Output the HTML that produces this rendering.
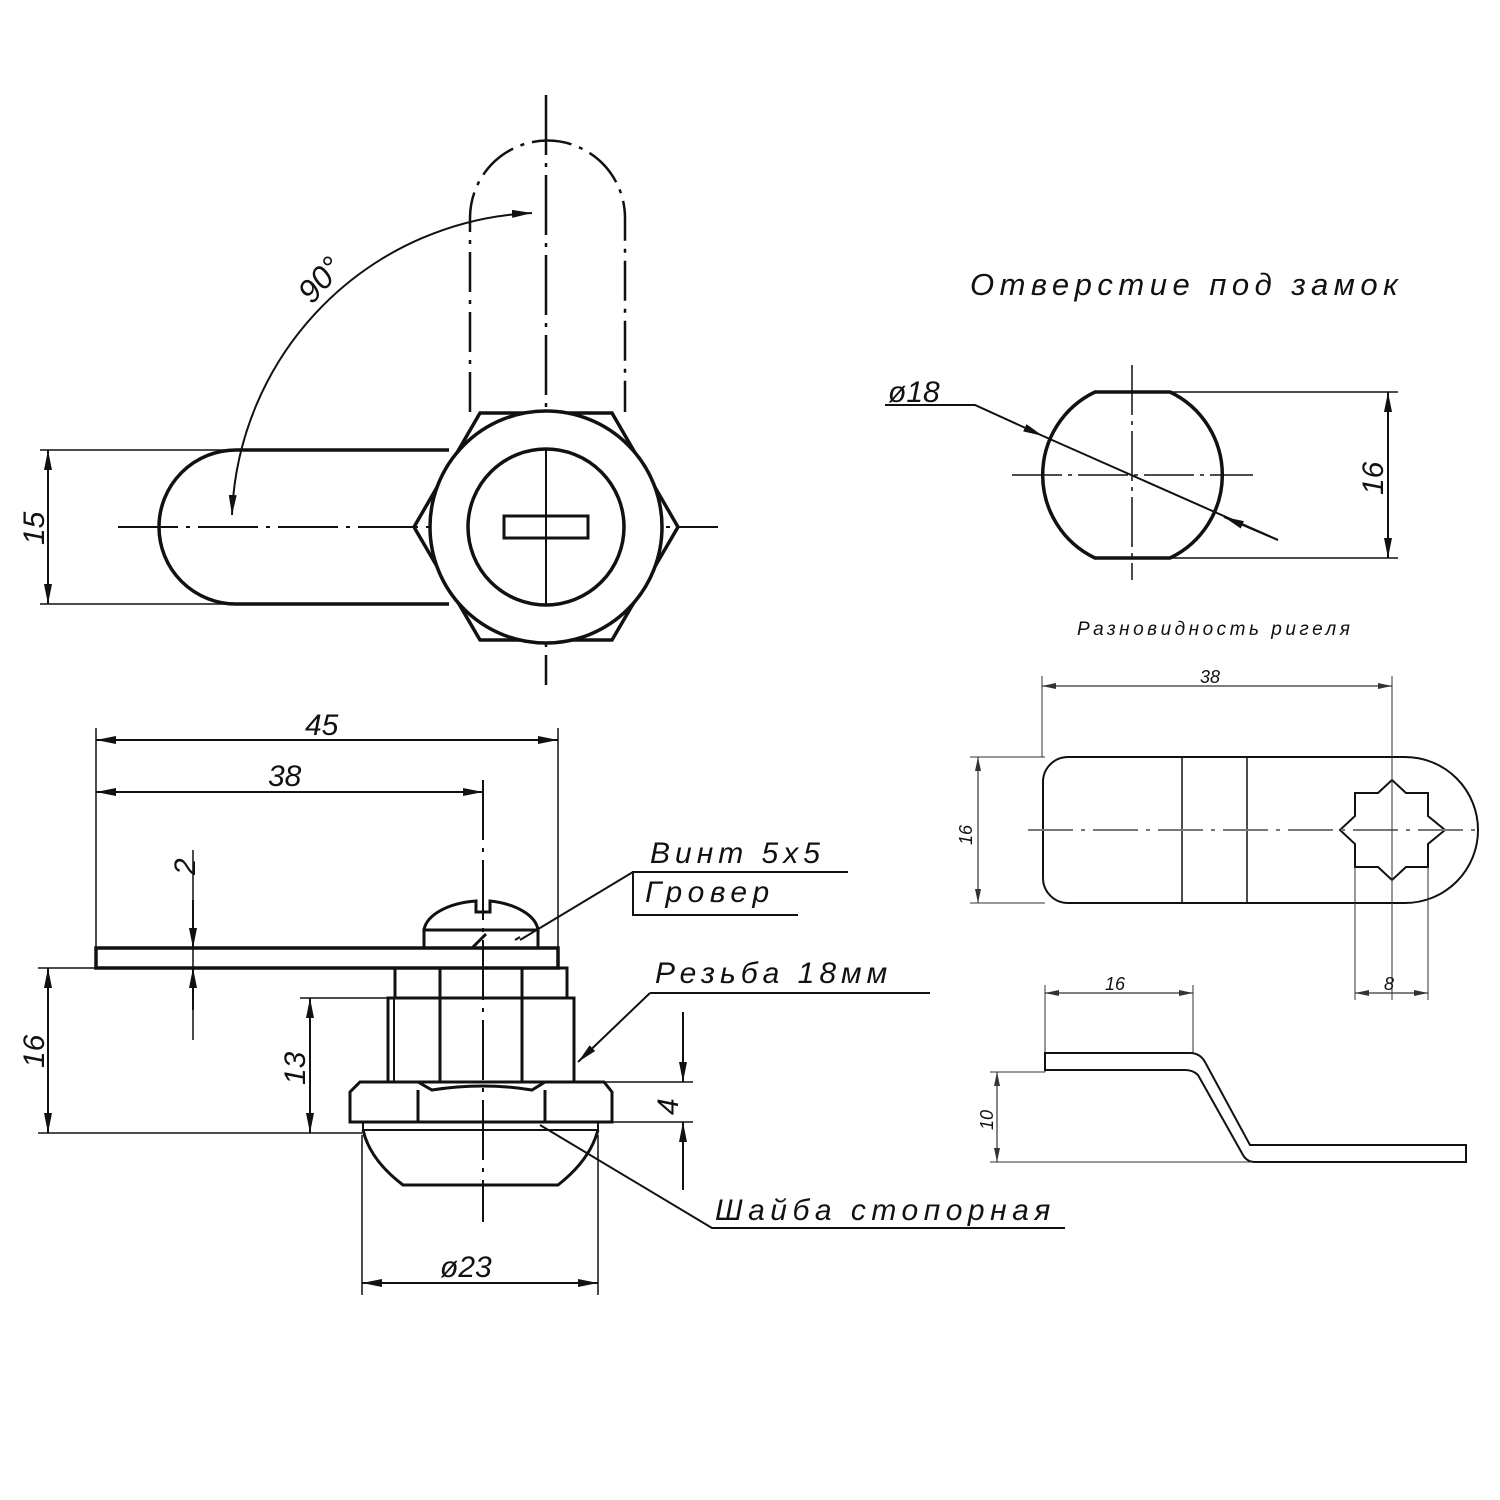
<!DOCTYPE html>
<html><head><meta charset="utf-8"><style>
html,body{margin:0;padding:0;background:#fff}
svg{display:block}
text{font-family:"Liberation Sans",sans-serif;font-style:italic;fill:#111}
</style></head><body>
<svg width="1500" height="1500" viewBox="0 0 1500 1500" xmlns="http://www.w3.org/2000/svg">
<defs>
<marker id="a" viewBox="0 0 20 8" refX="20" refY="4" markerWidth="20" markerHeight="8" orient="auto-start-reverse" markerUnits="userSpaceOnUse"><path d="M0,0 L20,4 L0,8 z" fill="#111"/></marker>
<marker id="s" viewBox="0 0 14 6" refX="14" refY="3" markerWidth="14" markerHeight="6" orient="auto-start-reverse" markerUnits="userSpaceOnUse"><path d="M0,0 L14,3 L0,6 z" fill="#333"/></marker>
</defs>
<g fill="none" stroke="#111" stroke-width="3">
<!-- TOP VIEW -->
<line x1="546" y1="95" x2="546" y2="685" stroke-width="2.5" stroke-dasharray="60,8,4,8"/>
<line x1="118" y1="527" x2="718" y2="527" stroke-width="2" stroke-dasharray="60,8,4,8"/>
<path d="M470,412 V218 A77,77 0 0 1 625,218 V412" stroke-width="2.5" stroke-dasharray="40,8,4,8"/>
<path d="M449,450 H236 A77,77 0 0 0 236,604 H449" stroke-width="3.5"/>
<polygon points="480,413 612,413 678,527 612,640 480,640 414,527" stroke-width="3.5"/>
<circle cx="546" cy="527" r="116" fill="#fff" stroke-width="3.5"/>
<circle cx="546" cy="527" r="78" stroke-width="3.5"/>
<rect x="504" y="516" width="84" height="22" stroke-width="3"/>
<line x1="546" y1="449" x2="546" y2="606" stroke-width="2"/>
<path d="M232,515 A314,314 0 0 1 532,213" stroke-width="2" marker-start="url(#a)" marker-end="url(#a)"/>
<g stroke-width="1.5">
<line x1="40" y1="450" x2="236" y2="450"/><line x1="40" y1="604" x2="236" y2="604"/>
</g>
<line x1="48" y1="450" x2="48" y2="604" stroke-width="2" marker-start="url(#a)" marker-end="url(#a)"/>

<!-- HOLE VIEW -->
<path d="M1095,392 H1170 A92,92 0 0 1 1170,558 H1095 A92,92 0 0 1 1095,392 z" stroke-width="3.5"/>
<line x1="1012" y1="475" x2="1253" y2="475" stroke-width="1.5" stroke-dasharray="50,6,4,6"/>
<line x1="1132" y1="365" x2="1132" y2="580" stroke-width="1.5" stroke-dasharray="50,6,4,6"/>
<polyline points="885,405 975,405 1043,436" stroke-width="2" marker-end="url(#a)"/>
<line x1="1043" y1="436" x2="1278" y2="540" stroke-width="2"/>
<line x1="1278" y1="540" x2="1224" y2="517" stroke-width="2" marker-end="url(#a)"/>
<g stroke-width="1.5"><line x1="1170" y1="392" x2="1398" y2="392"/><line x1="1170" y1="558" x2="1398" y2="558"/></g>
<line x1="1388" y1="392" x2="1388" y2="558" stroke-width="2" marker-start="url(#a)" marker-end="url(#a)"/>

<!-- BAR VIEW -->
<g stroke-width="2">
<path d="M1068,757 H1405 A73,73 0 0 1 1405,903 H1068 A25,25 0 0 1 1043,878 V782 A25,25 0 0 1 1068,757 z"/>
<line x1="1182" y1="757" x2="1182" y2="903" stroke-width="1.5"/>
<line x1="1247" y1="757" x2="1247" y2="903" stroke-width="1.5"/>
<polygon points="1355,793 1378,793 1392,780 1406,793 1428,793 1428,816 1445,830 1428,844 1428,867 1406,867 1392,880 1378,867 1355,867 1355,844 1340,830 1355,816"/>
</g>
<line x1="1028" y1="830" x2="1478" y2="830" stroke="#777" stroke-width="2" stroke-dasharray="45,8,4,8"/>
<g stroke-width="1" stroke="#333">
<line x1="1042" y1="676" x2="1042" y2="757"/><line x1="1392" y1="676" x2="1392" y2="1000"/>
<line x1="970" y1="757" x2="1045" y2="757"/><line x1="970" y1="903" x2="1045" y2="903"/>
<line x1="1355" y1="867" x2="1355" y2="1000"/><line x1="1428" y1="867" x2="1428" y2="1000"/>
<line x1="1045" y1="985" x2="1045" y2="1072"/><line x1="1193" y1="985" x2="1193" y2="1053"/>
<line x1="990" y1="1072" x2="1045" y2="1072"/><line x1="990" y1="1162" x2="1250" y2="1162"/>
</g>
<g stroke-width="1.2" stroke="#333">
<line x1="1042" y1="686" x2="1392" y2="686" marker-start="url(#s)" marker-end="url(#s)"/>
<line x1="978" y1="757" x2="978" y2="903" marker-start="url(#s)" marker-end="url(#s)"/>
<line x1="1355" y1="993" x2="1428" y2="993" marker-start="url(#s)" marker-end="url(#s)"/>
<line x1="1045" y1="993" x2="1193" y2="993" marker-start="url(#s)" marker-end="url(#s)"/>
<line x1="997" y1="1072" x2="997" y2="1162" marker-start="url(#s)" marker-end="url(#s)"/>
</g>
<path d="M1045,1053 H1190 Q1200,1053 1205,1062 L1250,1145 Q1255,1145 1262,1145 H1466 V1162 H1255 Q1247,1162 1243,1155 L1198,1075 Q1193,1070 1185,1070 H1045 z" stroke-width="2"/>

<!-- SIDE VIEW -->
<line x1="483" y1="780" x2="483" y2="1222" stroke-width="2" stroke-dasharray="60,8,4,8"/>
<rect x="96" y="948" width="462" height="20" stroke-width="3.5"/>
<path d="M424,930 A60,32 0 0 1 476,901 V912 H490 V901 A60,32 0 0 1 538,930 z" stroke-width="3"/>
<rect x="424" y="930" width="114" height="18" stroke-width="3"/>
<line x1="472" y1="948" x2="486" y2="934" stroke-width="3"/>
<line x1="515" y1="940" x2="520" y2="937" stroke-width="2"/>
<rect x="395" y="968" width="172" height="30" stroke-width="3"/>
<rect x="388" y="998" width="186" height="84" stroke-width="3"/>
<line x1="394" y1="998" x2="394" y2="1082" stroke-width="2"/>
<line x1="440" y1="968" x2="440" y2="1082"/><line x1="522" y1="968" x2="522" y2="1082"/>
<path d="M360,1082 H604 L612,1092 V1122 H350 V1092 z M418,1082 L432,1090 Q483,1082 532,1090 L545,1082 M418,1090 V1122 M545,1090 V1122" stroke-width="3"/>
<path d="M363,1122 H598 V1130 H363 z" stroke-width="2"/>
<path d="M363,1130 Q370,1160 403,1185 H558 Q590,1160 598,1130" stroke-width="3"/>
<g stroke-width="1.5">
<line x1="96" y1="728" x2="96" y2="948"/><line x1="558" y1="728" x2="558" y2="948"/>
<line x1="38" y1="968" x2="396" y2="968"/><line x1="38" y1="1133" x2="362" y2="1133"/>
<line x1="300" y1="998" x2="388" y2="998"/>
<line x1="574" y1="1082" x2="693" y2="1082"/><line x1="612" y1="1122" x2="693" y2="1122"/>
<line x1="362" y1="1135" x2="362" y2="1295"/><line x1="598" y1="1135" x2="598" y2="1295"/>
<line x1="193" y1="850" x2="193" y2="1040"/>
</g>
<g stroke-width="2">
<line x1="96" y1="740" x2="558" y2="740" marker-start="url(#a)" marker-end="url(#a)"/>
<line x1="96" y1="792" x2="483" y2="792" marker-start="url(#a)" marker-end="url(#a)"/>
<line x1="193" y1="900" x2="193" y2="948" marker-end="url(#a)"/>
<line x1="193" y1="1010" x2="193" y2="968" marker-end="url(#a)"/>
<line x1="48" y1="968" x2="48" y2="1133" marker-start="url(#a)" marker-end="url(#a)"/>
<line x1="310" y1="998" x2="310" y2="1133" marker-start="url(#a)" marker-end="url(#a)"/>
<line x1="683" y1="1012" x2="683" y2="1082" marker-end="url(#a)"/>
<line x1="683" y1="1190" x2="683" y2="1122" marker-end="url(#a)"/>
<line x1="362" y1="1283" x2="598" y2="1283" marker-start="url(#a)" marker-end="url(#a)"/>
<polyline points="848,872 633,872 633,915 798,915"/>
<line x1="633" y1="872" x2="520" y2="940"/>
<line x1="930" y1="993" x2="650" y2="993"/>
<line x1="650" y1="993" x2="578" y2="1062" marker-end="url(#a)"/>
<polyline points="1065,1228 712,1228 540,1125"/>
</g>
</g>
<!-- TEXT -->
<text x="0" y="0" font-size="32" transform="translate(312,305) rotate(-48)">90°</text>
<text x="0" y="0" font-size="30" transform="translate(44,545) rotate(-90)">15</text>
<text x="970" y="295" font-size="31" letter-spacing="5.5">Отверстие  под  замок</text>
<text x="888" y="402" font-size="30">ø18</text>
<text x="0" y="0" font-size="30" transform="translate(1383,495) rotate(-90)">16</text>
<text x="1077" y="635" font-size="19" fill="#444" letter-spacing="3.5">Разновидность  ригеля</text>
<text x="1200" y="683" font-size="18" fill="#444">38</text>
<text x="0" y="0" font-size="18" fill="#444" transform="translate(972,845) rotate(-90)">16</text>
<text x="1384" y="990" font-size="18" fill="#444">8</text>
<text x="1105" y="990" font-size="18" fill="#444">16</text>
<text x="0" y="0" font-size="18" fill="#444" transform="translate(993,1130) rotate(-90)">10</text>
<text x="305" y="735" font-size="30">45</text>
<text x="268" y="786" font-size="30">38</text>
<text x="0" y="0" font-size="30" transform="translate(195,875) rotate(-90)">2</text>
<text x="0" y="0" font-size="30" transform="translate(44,1068) rotate(-90)">16</text>
<text x="0" y="0" font-size="30" transform="translate(305,1085) rotate(-90)">13</text>
<text x="0" y="0" font-size="30" transform="translate(678,1115) rotate(-90)">4</text>
<text x="440" y="1277" font-size="30">ø23</text>
<text x="650" y="863" font-size="30" letter-spacing="5">Винт  5х5</text>
<text x="645" y="902" font-size="30" letter-spacing="5.5">Гровер</text>
<text x="655" y="983" font-size="30" letter-spacing="5">Резьба  18мм</text>
<text x="715" y="1220" font-size="30" letter-spacing="5.5">Шайба  стопорная</text>
</svg>
</body></html>
